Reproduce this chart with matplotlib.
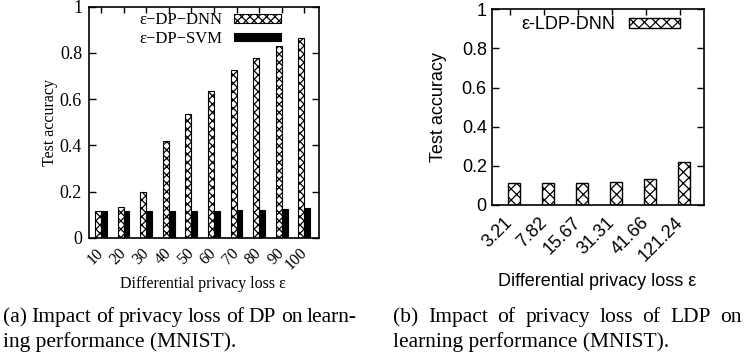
import numpy as np
import matplotlib
matplotlib.use("Agg")
import matplotlib.pyplot as plt

# --- data -------------------------------------------------------------
dp_eps = ["10", "20", "30", "40", "50", "60", "70", "80", "90", "100"]
dp_dnn = [0.115, 0.135, 0.20, 0.42, 0.535, 0.635, 0.725, 0.78, 0.83, 0.865]
dp_svm = [0.115, 0.115, 0.115, 0.115, 0.115, 0.118, 0.12, 0.123, 0.127, 0.128]

ldp_eps = ["3.21", "7.82", "15.67", "31.31", "41.66", "121.24"]
ldp_dnn = [0.113, 0.113, 0.113, 0.119, 0.13, 0.22]

yticks = [0, 0.2, 0.4, 0.6, 0.8, 1.0]
ytick_labels = ["0", "0.2", "0.4", "0.6", "0.8", "1"]

caption_a = ["(a) Impact of privacy loss of DP on learn-",
             "ing performance (MNIST)."]
caption_b = ["(b) Impact of privacy loss of LDP on",
             "learning performance (MNIST)."]

plt.rcParams["hatch.linewidth"] = 0.9

W, H = 745, 362
fig = plt.figure(figsize=(W / 100, H / 100), dpi=100)


def style_axes(ax):
    for s in ax.spines.values():
        s.set_linewidth(1.2)
    ax.tick_params(axis="y", which="both", left=True, right=True,
                   direction="in", length=5, width=1)
    ax.tick_params(axis="x", which="both", bottom=False, top=True,
                   direction="in", length=4, width=1)
    ax.set_ylim(0, 1)
    ax.set_yticks(yticks)
    ax.set_yticklabels(ytick_labels)


# --- (a) DP: DNN vs SVM ----------------------------------------------
serif = "Liberation Serif"
ax1 = fig.add_axes([89 / W, 1 - 238 / H, 230 / W, 231.3 / H])
x = np.arange(len(dp_eps))
w = 0.26
ax1.bar(x - w / 2, dp_dnn, w, color="white", edgecolor="black",
        hatch="xxxx", linewidth=0.8, label="ε−DP−DNN")
ax1.bar(x + w / 2, dp_svm, w, color="black", edgecolor="black",
        linewidth=0.8, label="ε−DP−SVM")
style_axes(ax1)
ax1.set_xlim(-0.53, 9.65)
ax1.set_xticks(x)
ax1.set_xticklabels(dp_eps, rotation=45, ha="right", va="center",
                    rotation_mode="anchor", family=serif, fontsize=11.5)
ax1.tick_params(axis="x", pad=9)
ax1.tick_params(axis="y", pad=5)
for lab in ax1.get_yticklabels():
    lab.set_family(serif)
    lab.set_fontsize(13)
ax1.set_ylabel("Test accuracy", family=serif, fontsize=11.5)
ax1.yaxis.set_label_coords(-0.135, 0.5)
ax1.set_xlabel("Differential privacy loss ε", family=serif, fontsize=11.5)
ax1.xaxis.set_label_coords(0.496, -0.165)
ax1.legend(loc="upper right", bbox_to_anchor=(0.835, 0.975), frameon=False,
           markerfirst=False, handlelength=2.8, handleheight=0.4,
           handletextpad=0.7, labelspacing=0.15, borderpad=0,
           borderaxespad=0, prop={"family": serif, "size": 12})

# --- (b) LDP: DNN ----------------------------------------------------
sans = "Liberation Sans"
ax2 = fig.add_axes([491.7 / W, 1 - 204.8 / H, 212.3 / W, 195.5 / H])
x2 = np.arange(len(ldp_eps))
ax2.bar(x2 + 0.115, ldp_dnn, 0.35, color="white", edgecolor="black",
        hatch="xxx", linewidth=1.0, label="ε-LDP-DNN")
style_axes(ax2)
ax2.set_xlim(-0.54, 5.7)
ax2.set_xticks(x2)
ax2.set_xticklabels(ldp_eps, rotation=45, ha="right", va="center",
                    rotation_mode="anchor", family=sans, fontsize=13)
ax2.tick_params(axis="x", pad=11)
for lab in ax2.get_yticklabels():
    lab.set_family(sans)
    lab.set_fontsize(13)
ax2.set_ylabel("Test accuracy", family=sans, fontsize=13)
ax2.yaxis.set_label_coords(-0.21, 0.5)
ax2.set_xlabel("Differential privacy loss ε", family=sans, fontsize=13)
ax2.xaxis.set_label_coords(0.496, -0.35)
ax2.legend(loc="upper right", bbox_to_anchor=(0.887, 0.965), frameon=False,
           markerfirst=False, handlelength=2.8, handleheight=0.5,
           handletextpad=0.8, borderpad=0, borderaxespad=0,
           prop={"family": sans, "size": 13})


# --- captions (first line justified) ---------------------------------
def justified_line(text, x0, x1, y, size):
    renderer = fig.canvas.get_renderer()
    words = text.split()
    items = [fig.text(0, y, wd, family=serif, fontsize=size,
                      va="baseline", ha="left") for wd in words]
    widths = [t.get_window_extent(renderer).width for t in items]
    gap = (x1 - x0 - sum(widths)) / (len(words) - 1)
    pos = x0
    for t, wd in zip(items, widths):
        t.set_x(pos / W)
        pos += wd + gap


cap_size = 15.5
justified_line(caption_a[0], 3, 357, 1 - 322 / H, cap_size)
fig.text(3 / W, 1 - 347 / H, caption_a[1], family=serif, fontsize=cap_size,
         va="baseline")
justified_line(caption_b[0], 393, 742, 1 - 322 / H, cap_size)
fig.text(393 / W, 1 - 347 / H, caption_b[1], family=serif, fontsize=cap_size,
         va="baseline")

fig.savefig("out.png", dpi=100)
